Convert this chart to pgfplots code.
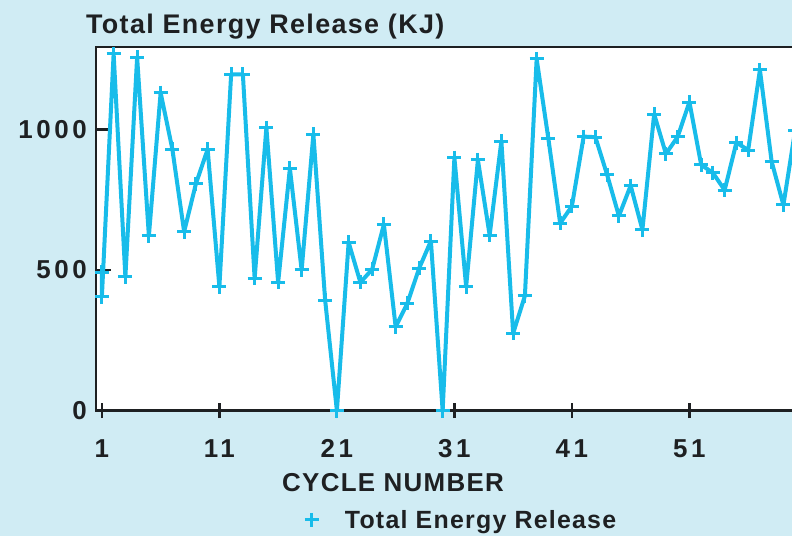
\documentclass[border=0pt]{standalone}
\usepackage{fontspec}
\setmainfont{Liberation Sans}[LetterSpace=5]
\newfontfamily\tickfont{Liberation Sans}[LetterSpace=14]
\usepackage{pgfplots}
\pgfplotsset{compat=1.18}
\definecolor{bgblue}{RGB}{208,236,244}
\definecolor{linecyan}{RGB}{24,188,234}
\definecolor{axisdark}{RGB}{30,32,34}
\pgfplotstableread{
cycle energy
1 492
1 405
2 1268
3 476
4 1256
5 621
6 1130
7 929
8 636
9 806
10 929
11 441
12 1195
13 1195
14 470
15 1006
16 456
17 861
18 500
19 982
20 393
21 0
22 598
23 456
24 502
25 662
26 298
27 382
28 506
29 603
30 0
31 899
32 441
33 891
34 624
35 958
36 275
37 408
38 1250
39 966
40 666
41 727
42 974
43 972
44 838
45 692
46 800
47 643
48 1054
49 913
50 973
51 1097
52 874
53 845
54 784
55 953
56 926
57 1211
58 885
59 731
60 997
}\energydata
\begin{document}
\begin{tikzpicture}[x=1bp,y=1bp]
\fill[bgblue] (0,0) rectangle (792,536);
\begin{axis}[
  at={(96bp,125.3bp)}, anchor=south west,
  scale only axis, width=710.9bp, height=363.7bp,
  xmin=0.5, xmax=61, ymin=0, ymax=1292.5,
  axis background/.style={fill=white},
  axis line style={line width=2.7bp, color=axisdark},
  xtick={1,11,21,31,41,51},
  ytick={0,500,1000},
  xtick pos=bottom, ytick pos=left,
  xtick align=center, ytick align=inside,
  major tick length=15bp,
  tick style={line width=2.5bp, color=axisdark},
  /pgf/number format/assume math mode=true,
  /pgf/number format/1000 sep={},
  ticklabel style={font=\tickfont\bfseries\fontsize{26}{30}\selectfont, text=axisdark, inner sep=0pt},
  yticklabel style={anchor=east, xshift=-9bp},
  xticklabel style={anchor=base, yshift=-39bp},
  xlabel={CYCLE NUMBER},
  xlabel style={at={(axis description cs:0.4178,-0.2227)}, anchor=base, inner sep=0pt,
    font=\bfseries\fontsize{26}{30}\selectfont, text=axisdark},
  clip=false,
  legend style={draw=none, fill=none, at={(axis description cs:0.2936,-0.3005)}, anchor=west,
    font=\bfseries\fontsize{25}{30}\selectfont, text=axisdark, inner sep=0pt,
    nodes={inner sep=0pt},
    /tikz/every odd column/.append style={column sep=26bp}},
  legend image code/.code={\draw[#1] plot coordinates {(0bp,0bp)};},
]
\addplot[linecyan, line width=4bp, line join=round, mark=+, mark size=7bp, mark options={line width=3bp, solid}]
  table[x=cycle, y=energy] {\energydata};
\addlegendentry{Total Energy Release}
\end{axis}
\node[anchor=base west, inner sep=0pt, font=\bfseries\fontsize{27}{32}\selectfont, text=axisdark] at (86bp,502.7bp) {Total Energy Release (KJ)};
\pgfresetboundingbox
\path[use as bounding box] (0,0) rectangle (792,536);
\end{tikzpicture}
\end{document}
